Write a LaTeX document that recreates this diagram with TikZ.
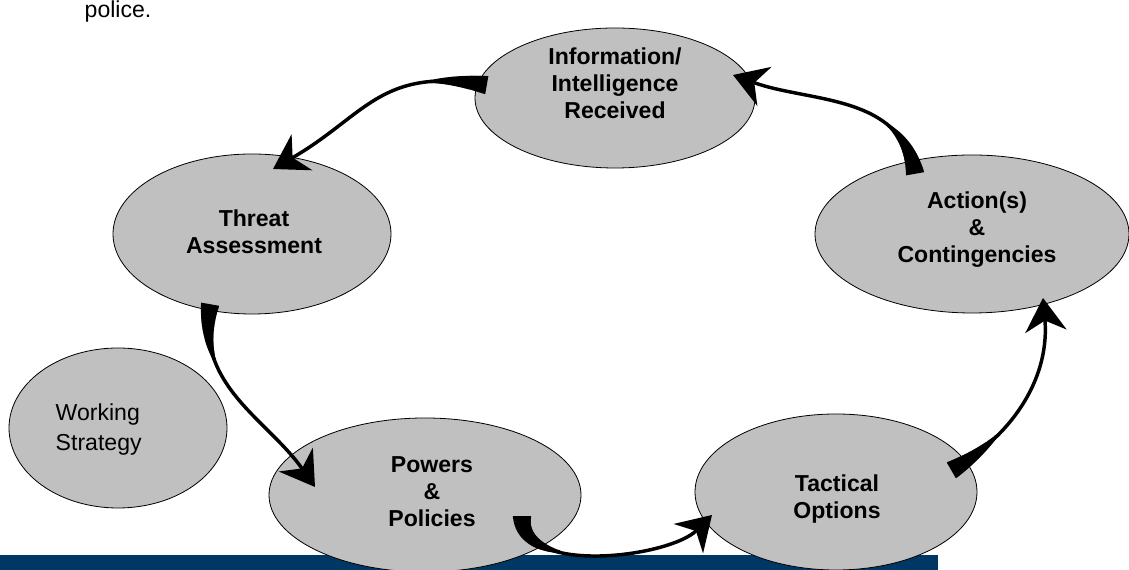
\documentclass[tikz,border=0pt]{standalone}
\usepackage{fontspec}
\setmainfont{Liberation Sans}
\usepackage{xcolor}
\definecolor{colorBubble}{RGB}{192,192,192}
\definecolor{colorBar}{RGB}{0,56,101}
\usetikzlibrary{arrows.meta, shapes.geometric, calc, decorations.markings}
\tikzset{
  bubble/.style={ellipse, draw=black, line width=0.6pt, fill=colorBubble, inner sep=0pt},
  cycletext/.style={align=center, font=\bfseries\fontsize{17.3}{20.3}\selectfont},
  plaintext/.style={font=\fontsize{17.3}{22.5}\selectfont},
  cyclearrow/.style={-{Stealth[length=25pt,width=31pt,inset=8pt]}, line width=2.6pt, black,
    postaction={decorate}, decoration={markings,
      mark=between positions 0 and 42pt step 0.8pt with {%
        \pgfmathsetmacro\halfw{max(1.2,6.8-0.14*\pgfkeysvalueof{/pgf/decoration/mark info/distance from start})}%
        \fill (-0.6pt,-\halfw pt) rectangle (0.6pt,\halfw pt);}}},
}

\begin{document}
\begin{tikzpicture}[x=0.75pt, y=0.75pt]
\useasboundingbox (0,0) rectangle (1129,570);
\fill[colorBar] (0,0) rectangle (938,15);
\node[plaintext, anchor=base west] (police) at (80,552) {police.};
% the five stages and the side bubble
\node[bubble, minimum width=210pt, minimum height=105pt] (info) at (615,472) {};
\node[bubble, minimum width=208.5pt, minimum height=120pt] (threat) at (252,336) {};
\node[bubble, minimum width=235.5pt, minimum height=118.5pt] (actions) at (972,336) {};
\node[bubble, minimum width=234pt, minimum height=115.5pt] (powers) at (425,75) {};
\node[bubble, minimum width=211.5pt, minimum height=117pt] (tactical) at (836,78) {};
\node[bubble, minimum width=163.5pt, minimum height=120pt] (working) at (118,142) {};
\node[cycletext] (infotext) at (615,487) {Information/\\Intelligence\\Received};
\node[cycletext] (threattext) at (254,338) {Threat\\Assessment};
\node[cycletext] (actionstext) at (977,340) {Action(s)\\\&\\Contingencies};
\node[cycletext] (powerstext) at (432,78) {Powers\\\&\\Policies};
\node[cycletext] (tacticaltext) at (837,71) {Tactical\\Options};
\node[plaintext, align=left, anchor=west] (workingtext) at (51,140) {Working\\Strategy};
% cycle arrows
\draw[cyclearrow] ($(info)+(-129,13)$) to[out=170, in=30, looseness=1.2] ($(threat)+(21,65)$);
\draw[cyclearrow] ($(threat)+(-42,-71)$) to[out=-100, in=125] ($(powers)+(-110,8)$);
\draw[cyclearrow] ($(powers)+(97,-22)$) to[out=-90, in=225, looseness=0.8] ($(tactical)+(-124,-23)$);
\draw[cyclearrow] ($(tactical)+(116,22)$) to[out=30, in=-85] ($(actions)+(71,-64)$);
\draw[cyclearrow] ($(actions)+(-57,61)$) to[out=100, in=-20] ($(info)+(118,23)$);
\end{tikzpicture}
\end{document}
